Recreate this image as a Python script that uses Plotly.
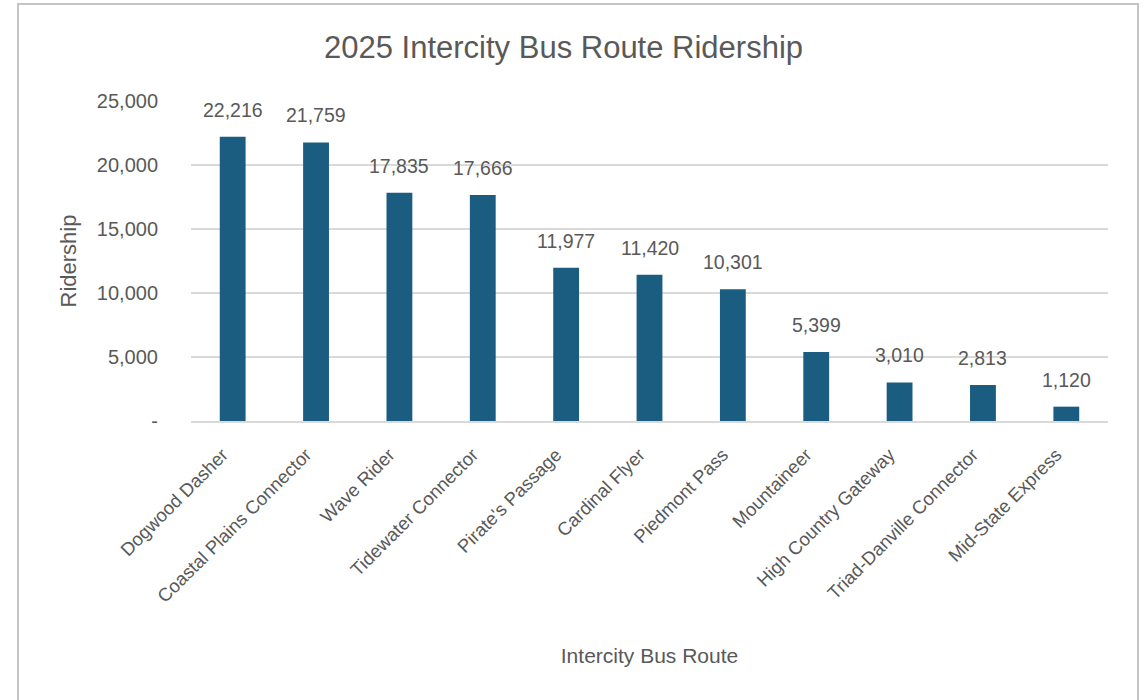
import plotly.graph_objects as go

routes = ["Dogwood Dasher", "Coastal Plains Connector", "Wave Rider", "Tidewater Connector",
          "Pirate's Passage", "Cardinal Flyer", "Piedmont Pass", "Mountaineer",
          "High Country Gateway", "Triad-Danville Connector", "Mid-State Express"]
ridership = [22216, 21759, 17835, 17666, 11977, 11420, 10301, 5399, 3010, 2813, 1120]
y_tickvals = [0, 5000, 10000, 15000, 20000, 25000]
y_ticktext = ["-", "5,000", "10,000", "15,000", "20,000", "25,000"]

FONT = "Liberation Sans, Arial, sans-serif"
GRAY = "#595959"
BAR = "#1a5d80"

W, H = 1145, 700
L, R, T, B = 191, 1108, 101, 421

def px_x(px):
    return (px - L) / (R - L)

def px_y(py):
    return (B - py) / (B - T)

fig = go.Figure(go.Bar(x=routes, y=ridership, marker=dict(color=BAR, line=dict(width=0)),
                       hoverinfo="x+y"))

for r, v in zip(routes, ridership):
    fig.add_annotation(x=r, y=v, text=f"{v:,}", showarrow=False, yanchor="bottom",
                       yshift=14, font=dict(family=FONT, size=19.5, color=GRAY))

fig.add_annotation(xref="paper", yref="paper", x=px_x(563), y=px_y(47), text="2025 Intercity Bus Route Ridership",
                   showarrow=False, xanchor="center", yanchor="middle",
                   font=dict(family=FONT, size=31, color=GRAY))

fig.add_shape(type="rect", xref="paper", yref="paper", x0=px_x(18), x1=px_x(1138), y0=px_y(720), y1=px_y(4),
              line=dict(color="#c4c4c4", width=2), fillcolor="rgba(0,0,0,0)", layer="below")

fig.update_layout(
    width=W, height=H,
    margin=dict(l=L, r=W - R, t=T, b=H - B, autoexpand=False),
    paper_bgcolor="white", plot_bgcolor="white",
    bargap=0.69,
    showlegend=False,
    font=dict(family=FONT, color=GRAY),
    xaxis=dict(tickangle=-45, tickfont=dict(family=FONT, size=18.5, color=GRAY),
               ticklabelstandoff=14, ticklabelshift=-10,
               showgrid=False, showline=True, linecolor="#d9d9d9", linewidth=1.5, ticks="",
               title=dict(text="Intercity Bus Route", font=dict(family=FONT, size=21, color=GRAY), standoff=43)),
    yaxis=dict(range=[0, 25000], tickvals=y_tickvals, ticktext=y_ticktext,
               tickfont=dict(family=FONT, size=20, color=GRAY), showgrid=True, gridcolor="#d9d9d9", gridwidth=1.5,
               zeroline=False, showline=False, ticks="", ticklabelstandoff=32,
               title=dict(text="Ridership", font=dict(family=FONT, size=22, color=GRAY), standoff=14)),
)

fig.write_html("out.html", config={"displayModeBar": False},
               post_script="document.body.style.margin='0';")
